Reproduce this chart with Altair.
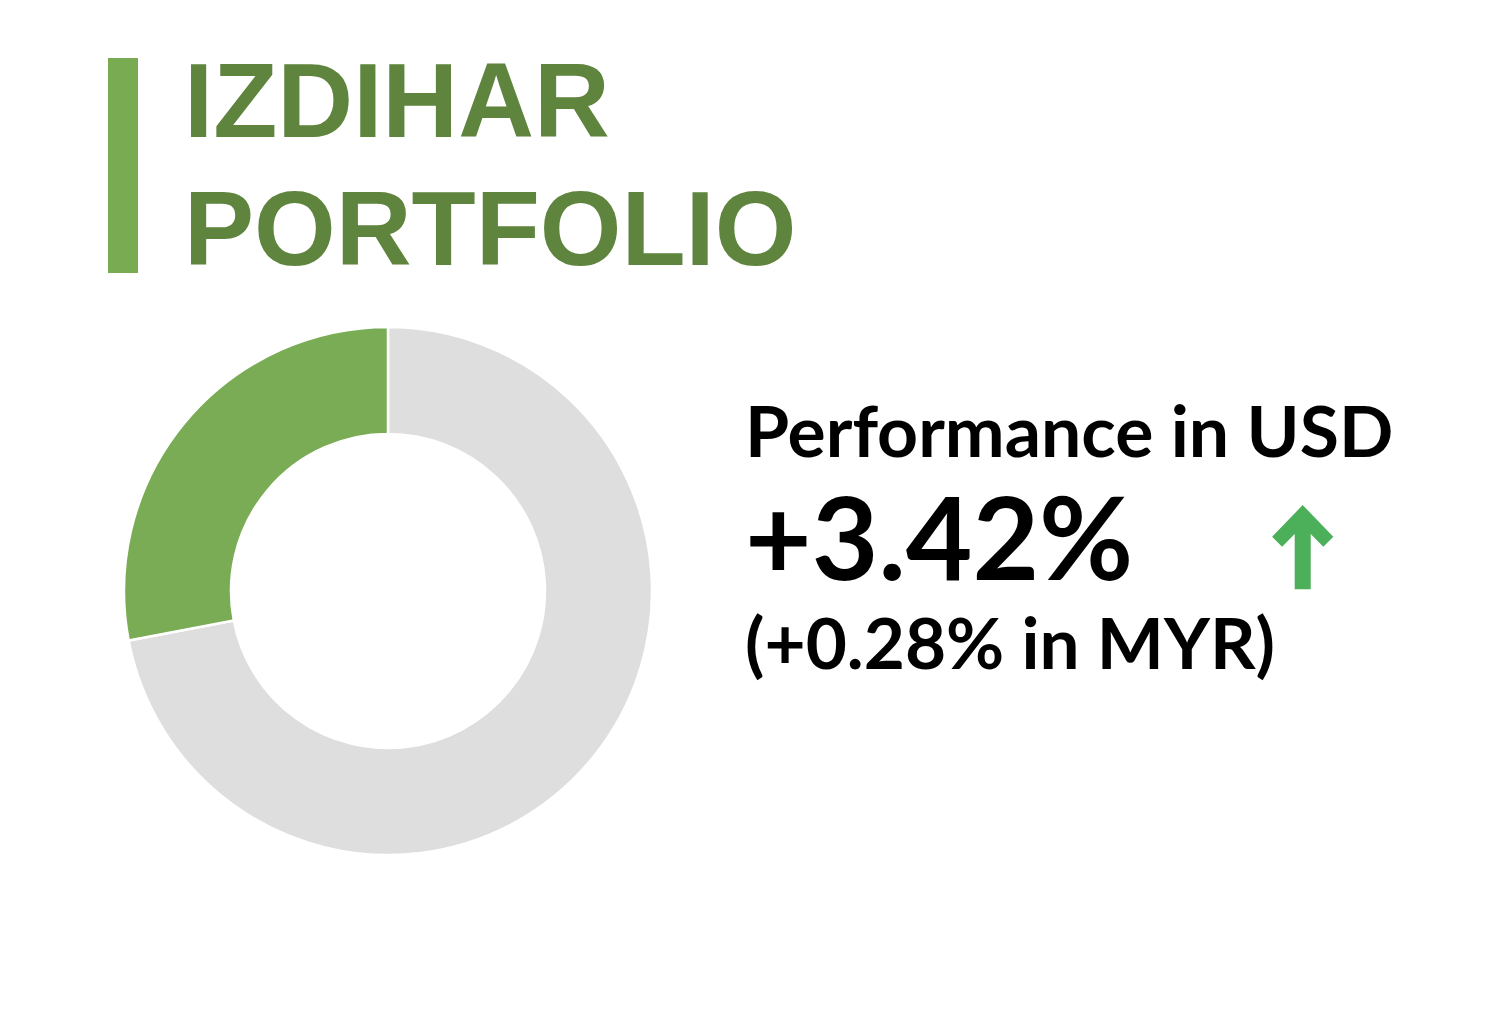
import altair as alt
import pandas as pd

# ---- data ----
slice_labels = ["Rest", "Izdihar"]
slice_values = [72.0, 28.0]
slice_order = [0, 1]
slice_colors = ["#dedede", "#7aab55"]

title_lines = ["IZDIHAR", "PORTFOLIO"]
perf_label = "Performance in USD"
perf_usd = "+3.42%"
perf_myr = "(+0.28% in MYR)"

W, H = 1472, 1018
OX, OY = 8, 8  # page margin offset

donut_df = pd.DataFrame({"label": slice_labels, "value": slice_values, "ord": slice_order})

donut = alt.Chart(donut_df).mark_arc(
    radius=264, radius2=157, stroke="white", strokeWidth=2.5
).encode(
    theta=alt.Theta("value:Q", stack=True),
    order=alt.Order("ord:Q"),
    color=alt.Color("label:N", scale=alt.Scale(domain=slice_labels, range=slice_colors), legend=None),
    x=alt.value(388 - OX),
    y=alt.value(591 - OY),
)

one = alt.Data(values=[{"a": 1}])

bar = alt.Chart(one).mark_rect(color="#79ab53").encode(
    x=alt.value(108 - OX), x2=alt.value(138 - OX),
    y=alt.value(58 - OY), y2=alt.value(273 - OY),
)

def txt(s, x, y, size, font, color, weight="bold"):
    return alt.Chart(one).mark_text(
        align="left", baseline="alphabetic", font=font, fontSize=size,
        fontWeight=weight, color=color,
    ).encode(x=alt.value(x - OX), y=alt.value(y - OY), text=alt.value(s))

t1 = txt(title_lines[0], 184, 137, 105, "Liberation Sans", "#5f843d")
t2 = txt(title_lines[1], 184, 265, 105, "Liberation Sans", "#5f843d")
p1 = txt(perf_label, 745, 457, 71.5, "Lato", "#000000")
p2 = txt(perf_usd, 745, 580, 115, "Lato", "#000000")
p3 = txt(perf_myr, 745, 669, 71, "Lato", "#000000")

arrow_path = ("M 0 -1 L 0.726 -0.249 L 0.489 -0.012 L 0.19 -0.313 L 0.19 1 "
              "L -0.19 1 L -0.19 -0.313 L -0.489 -0.012 L -0.726 -0.249 Z")
arrow = alt.Chart(one).mark_point(
    shape=arrow_path, filled=True, size=7106, color="#4caf5a", opacity=1, strokeWidth=0
).encode(x=alt.value(1302.7 - OX), y=alt.value(547.2 - OY))

chart = alt.layer(bar, t1, t2, donut, p1, p2, p3, arrow).properties(
    width=W, height=H,
    autosize=alt.AutoSizeParams(type="none"),
    padding=0,
).configure_view(strokeWidth=0)

chart.save("out.html", embed_options={"renderer": "svg", "actions": False})
